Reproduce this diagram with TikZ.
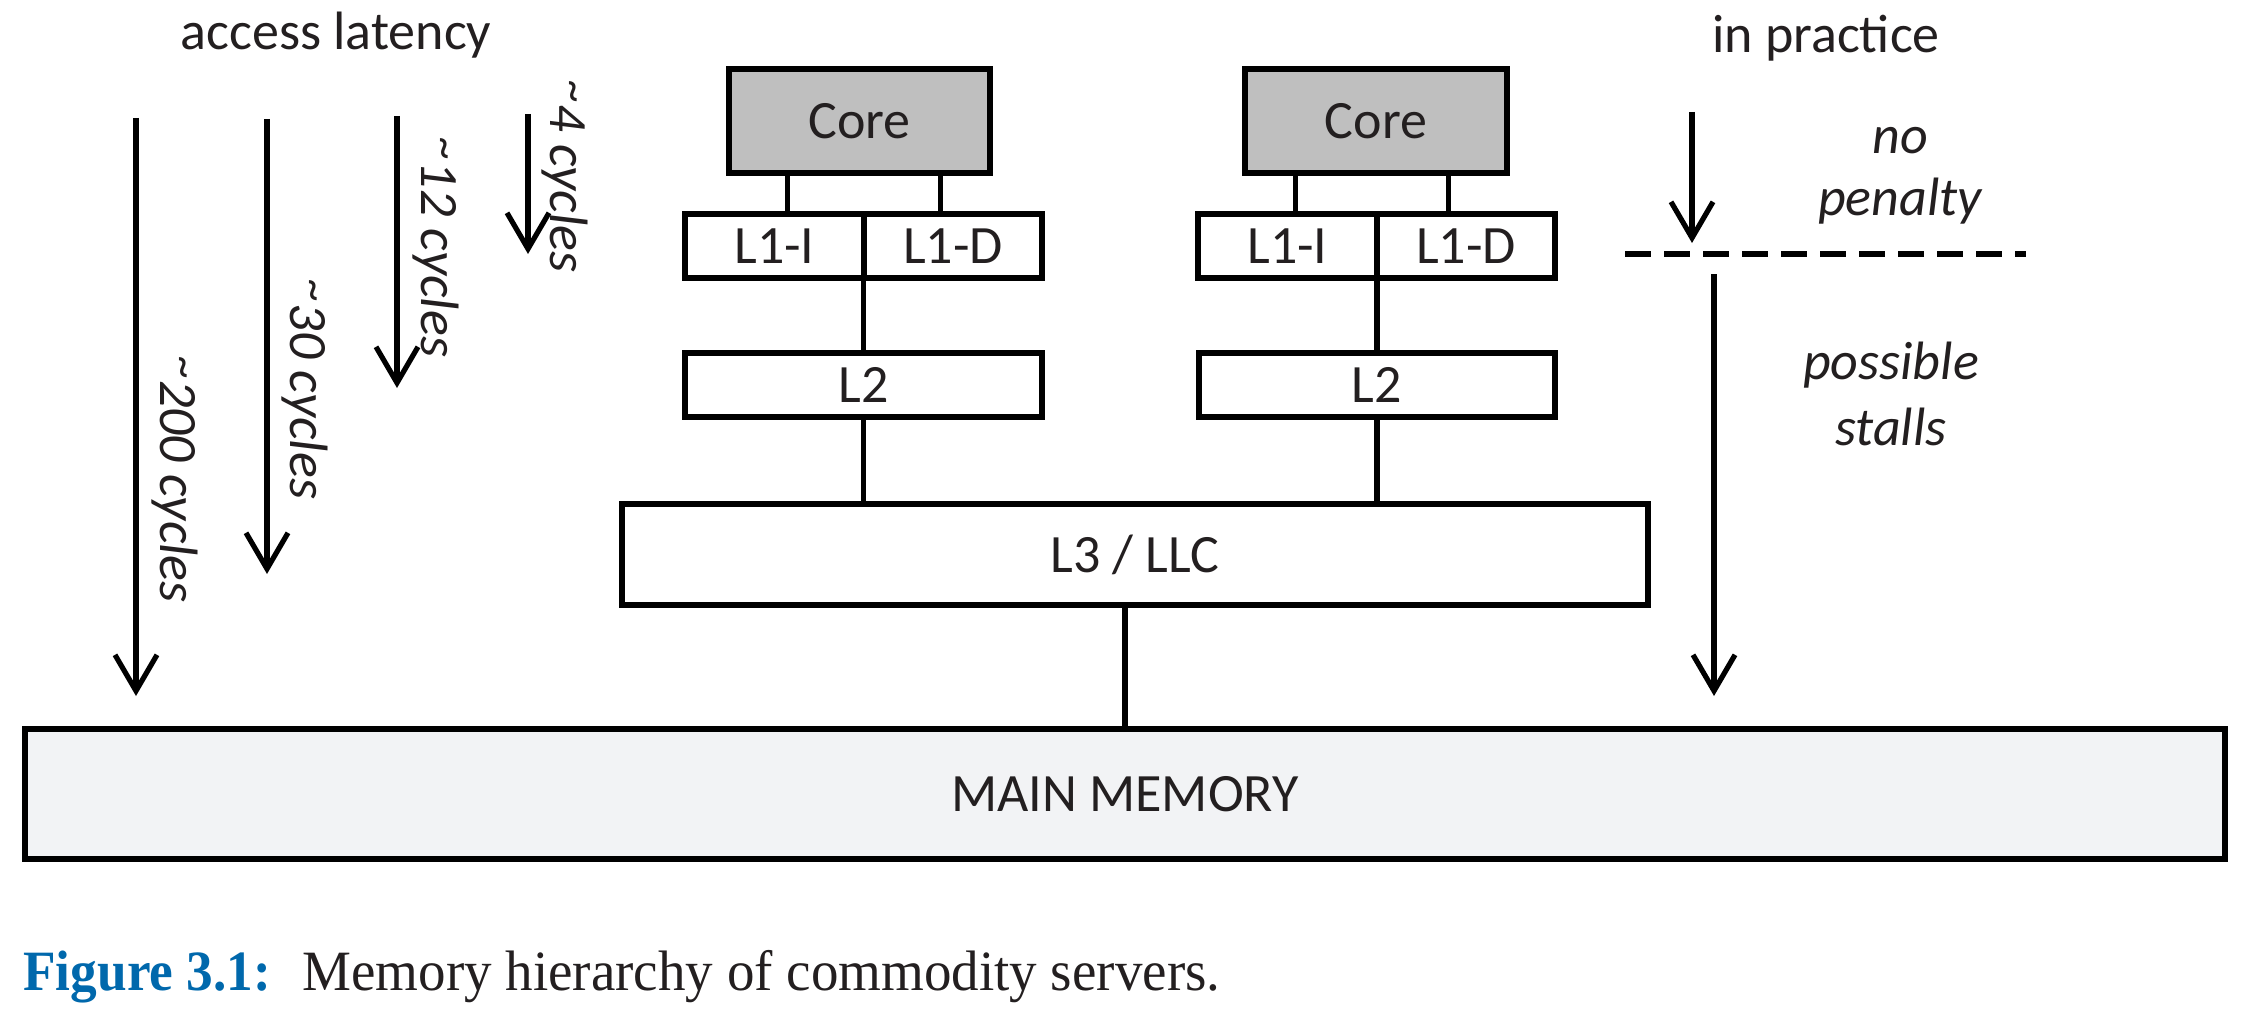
\documentclass[tikz,border=0pt]{standalone}
\usepackage{fontspec}
\setmainfont{Carlito}
\newfontfamily\capfont{Liberation Serif}
\usetikzlibrary{arrows.meta,calc}
\definecolor{ink}{HTML}{231F20}
\definecolor{coregray}{HTML}{BFBFBF}
\definecolor{memfill}{HTML}{F2F3F5}
\definecolor{figblue}{RGB}{0,104,172}
\newcommand{\aptilde}{\raisebox{0.2em}{\scalebox{0.85}{\textasciitilde}}}
\begin{document}
\begin{tikzpicture}[x=0.5pt,y=-0.5pt,
  lbl/.style={font=\fontsize{27pt}{32pt}\selectfont, text=ink, inner sep=0pt},
  ilbl/.style={font=\fontsize{27pt}{32pt}\selectfont\itshape, text=ink, inner sep=0pt},
  box/.style={draw=black, line width=2.8pt, font=\fontsize{27pt}{32pt}\selectfont, text=ink, inner sep=0pt},
  conn/.style={draw=black, line width=2.6pt},
  arr/.style={draw=black, line width=2.6pt, -{Straight Barb[length=18pt,width=21pt]}},
  capstyle/.style={anchor=base west, inner sep=0pt}
]
\useasboundingbox (0,0) rectangle (2241,1016);

% boxes
\node[box, fill=coregray, minimum width=130.5pt, minimum height=52pt] (core1) at (859.5,121) {Core};
\node[box, fill=coregray, minimum width=131pt, minimum height=52pt] (core2) at (1376,121) {Core};
\node[box, minimum width=89.5pt, minimum height=32pt] (l1i1) at (774.5,246) {L1-I};
\node[box, minimum width=89pt, minimum height=32pt] (l1d1) at (953,246) {L1-D};
\node[box, minimum width=89.5pt, minimum height=32pt] (l1i2) at (1287.5,246) {L1-I};
\node[box, minimum width=89pt, minimum height=32pt] (l1d2) at (1466,246) {L1-D};
\node[box, minimum width=178.5pt, minimum height=32pt] (l2a) at (863.5,385) {L2};
\node[box, minimum width=178pt, minimum height=32pt] (l2b) at (1377,385) {L2};
\node[box, minimum width=513pt, minimum height=50.5pt] (l3) at (1135,554.5) {L3 / LLC};
\node[box, fill=memfill, line width=3pt, minimum width=1100pt, minimum height=65pt] (mm) at (1125,794) {MAIN MEMORY};

% connectors core -> L1
\path ($(core1.south west)!0.23!(core1.south east)$) coordinate (k1)
      ($(core1.south west)!0.805!(core1.south east)$) coordinate (k2)
      ($(core2.south west)!0.20!(core2.south east)$) coordinate (k3)
      ($(core2.south west)!0.77!(core2.south east)$) coordinate (k4);
\draw[conn] (k1) -- (k1 |- l1i1.north);
\draw[conn] (k2) -- (k2 |- l1d1.north);
\draw[conn] (k3) -- (k3 |- l1i2.north);
\draw[conn] (k4) -- (k4 |- l1d2.north);
% L1 -> L2 -> L3 -> MM
\draw[conn] (l2a.north) -- (l2a.north |- l1i1.south);
\draw[conn] (l2b.north) -- (l2b.north |- l1i2.south);
\draw[conn] (l2a.south) -- (l2a.south |- l3.north);
\draw[conn] (l2b.south) -- (l2b.south |- l3.north);
\draw[conn] (mm.north) -- (mm.north |- l3.south);

% latency arrows
\coordinate (a1s) at (136,118); \coordinate (a1e) at (136,696);
\coordinate (a2s) at (267,119); \coordinate (a2e) at (267,574);
\coordinate (a3s) at (397,116); \coordinate (a3e) at (397,388);
\coordinate (a4s) at (528,114); \coordinate (a4e) at (528,254);
\draw[arr] (a1s) -- (a1e);
\draw[arr] (a2s) -- (a2e);
\draw[arr] (a3s) -- (a3e);
\draw[arr] (a4s) -- (a4e);
\node[ilbl, rotate=-90, anchor=base] (t1) at (160,480) {\aptilde200 cycles};
\node[ilbl, rotate=-90, anchor=base] (t2) at (290,390) {\aptilde30 cycles};
\node[ilbl, rotate=-90, anchor=base] (t3) at (421,248) {\aptilde12 cycles};
\node[ilbl, rotate=-90, anchor=base] (t4) at (550,177) {\aptilde4 cycles};
\node[lbl, anchor=base] (acc) at (336,50) {access latency};

% in practice
\node[lbl, anchor=base] (prac) at (1826,53) {in practice};
\coordinate (p1s) at (1692,112); \coordinate (p1e) at (1692,243);
\coordinate (p2s) at (1714,274); \coordinate (p2e) at (1714,696);
\coordinate (d1) at (1625,254); \coordinate (d2) at (2026,254);
\draw[arr] (p1s) -- (p1e);
\draw[arr] (p2s) -- (p2e);
\draw[line width=2.6pt, dash pattern=on 13pt off 6.5pt] (d1) -- (d2);
\node[ilbl, anchor=base] (np1) at (1900,154) {no};
\node[ilbl, anchor=base] (np2) at (1900,216) {penalty};
\node[ilbl, anchor=base] (ps1) at (1891,379) {possible};
\node[ilbl, anchor=base] (ps2) at (1891,445) {stalls};

% caption
\node[capstyle, font=\capfont\bfseries\fontsize{28.5pt}{34pt}\selectfont, text=figblue] (figlbl) at (23,990) {\scalebox{0.935}[1]{Figure 3.1:}};
\node[capstyle, font=\capfont\fontsize{28.5pt}{34pt}\selectfont, text=ink] (figcap) at (302,990) {\scalebox{0.965}[1]{Memory hierarchy of commodity servers.}};
\end{tikzpicture}
\end{document}
